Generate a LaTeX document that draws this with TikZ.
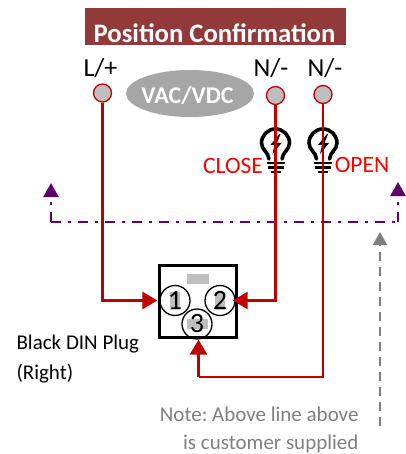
\documentclass[tikz,border=0pt]{standalone}
\usepackage{fontspec}
\setmainfont{Carlito}
\usetikzlibrary{arrows.meta,shapes.geometric}
\definecolor{titlered}{RGB}{146,58,58}
\definecolor{wirered}{RGB}{192,0,0}
\definecolor{termgrey}{RGB}{190,190,190}
\definecolor{ovalgrey}{RGB}{166,166,166}
\definecolor{linepurple}{RGB}{96,0,110}
\definecolor{notegrey}{RGB}{127,127,127}
\frenchspacing
\tikzset{
    terminal/.style={circle, draw=wirered, fill=termgrey, line width=1.3pt, minimum size=18pt, inner sep=0pt},
    pin/.style={circle, draw=black, line width=1.3pt, minimum size=30pt, inner sep=0pt, font=\fontsize{28}{28}\selectfont},
    pad/.style={fill=termgrey, draw=none},
    wire/.style={draw=wirered, line width=3pt},
    thinwire/.style={draw=wirered, line width=1.2pt},
    wirearrow/.style={-{Triangle[length=15pt,width=17pt]}},
    customer/.style={draw=linepurple, line width=2.3pt, dash pattern=on 10pt off 7pt on 3pt off 7pt},
    purplearrow/.style={-{Triangle[length=14pt,width=15pt]}},
    toplabel/.style={font=\fontsize{26}{26}\selectfont},
    redlabel/.style={text=red, font=\fontsize{23.5}{23.5}\selectfont},
    notetext/.style={text=notegrey, font=\fontsize{21}{21}\selectfont, anchor=east},
    plugtext/.style={font=\fontsize{21}{21}\selectfont, anchor=west},
    bulb/.pic={
        % globe and screw base
        \draw[line width=3.6pt, line cap=round] (-6.5,16) .. controls (-7,9) and (-14,7) .. (-14,0)
            arc (180:360:14) .. controls (14,7) and (7,9) .. (6.5,16);
        \foreach \yy/\hw in {20/9,24.5/8,29/5}
            \draw[line width=2.8pt] (-\hw,\yy) -- (\hw,\yy);
        \fill (4,-9) -- (-5,2) -- (-1,2) -- (-3,11) -- (6,0) -- (1.5,0) -- (5,-9) -- cycle;
    }
}
\begin{document}
\begin{tikzpicture}[x=1pt,y=-1pt]
    \useasboundingbox (0,0) rectangle (405,454);
    % Title bar
    \node[fill=titlered, minimum width=261pt, minimum height=37pt, inner sep=0pt] (titlebar) at (215.5,26.5) {};
    \node[text=white, font=\bfseries\fontsize{26.7}{26.7}\selectfont] (titletext) at (214.5,33) {Position Confirmation};

    % Supply side
    \node[ellipse, fill=ovalgrey, minimum width=128pt, minimum height=47pt, inner sep=0pt] (supply) at (190,93.5) {};
    \node[text=white, font=\bfseries\fontsize{24}{24}\selectfont] (supplytext) at (187.5,96) {VAC/VDC};
    \node[toplabel] (labelL) at (100.5,68) {L/+};
    \node[toplabel] (labelNa) at (271,68) {N/-};
    \node[toplabel] (labelNb) at (325,68) {N/-};

    % Customer line
    \coordinate (leftcorner) at (51,222);
    \coordinate (rightcorner) at (398,222);
    \coordinate (lefttip) at (51,183);
    \coordinate (righttip) at (398,182);
    \draw[customer] (leftcorner) -- (rightcorner);
    \draw[customer, purplearrow] (leftcorner) -- (lefttip);
    \draw[customer, purplearrow] (rightcorner) -- (righttip);

    % Lamps
    \pic at (275.5,143) {bulb};
    \pic at (323,143) {bulb};
    \node[redlabel] (closelabel) at (233,166) {CLOSE};
    \node[redlabel] (openlabel) at (362,165) {OPEN};

    % Plug
    \node[draw=black, line width=3pt, minimum width=77pt, minimum height=72pt, inner sep=0pt] (plug) at (197.5,301) {};
    \fill[pad] (187,274) rectangle (209,284);
    \fill[pad] (170,292) rectangle (180,310);
    \fill[pad] (215,292) rectangle (225,310);
    \node[pin] (pina) at (175,300.5) {1};
    \node[pin] (pinb) at (220,300.5) {2};
    \fill[pad] (187,319) rectangle (208,329);
    \node[pin] (pinc) at (197,324) {3};
    \node[plugtext] (pluglabela) at (13,344) {Black DIN Plug};
    \node[plugtext] (pluglabelb) at (13,374) {(Right)};

    % Terminals
    \node[terminal] (termL) at (102.5,93) {};
    \node[terminal] (termNa) at (275.5,95.5) {};
    \node[terminal] (termNb) at (323,94.5) {};

    % Wiring
    \coordinate (bottomright) at (323,377);
    \coordinate (bottomleft) at (198.5,377);
    \draw[wire, wirearrow, shorten >=2pt] (termL.south) |- (pina.west);
    \draw[wire, wirearrow, shorten >=-3pt] (termNa.south) |- (pinb.east);
    \draw[thinwire] (termNb.south) -- (bottomright) -- (bottomleft);
    \draw[wire, wirearrow] (bottomleft) -- (pinc.south -| bottomleft);

    % Note
    \coordinate (notefoot) at (380,426);
    \coordinate (notetip) at (380,232);
    \draw[draw=notegrey, line width=2pt, dash pattern=on 9pt off 6pt, -{Triangle[length=13pt,width=14pt]}] (notefoot) -- (notetip);
    \node[notetext] (notea) at (362,414) {Note: Above line above};
    \node[notetext] (noteb) at (362,444) {is customer supplied};
\end{tikzpicture}
\end{document}
